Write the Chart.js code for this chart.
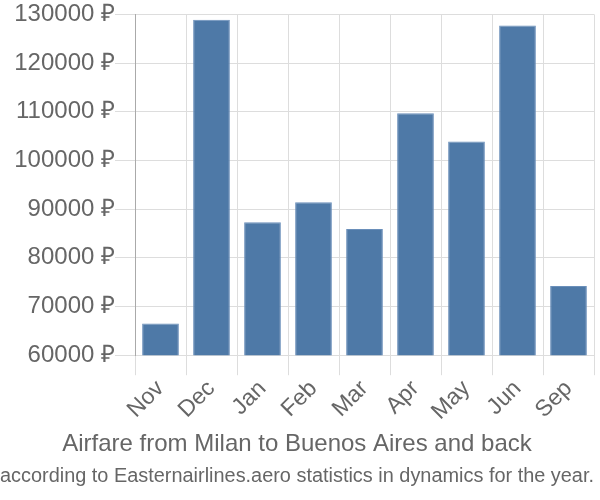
<!DOCTYPE html>
<html>
<head>
<meta charset="utf-8">
<script src="https://cdn.jsdelivr.net/npm/chart.js@4.4.0/dist/chart.umd.min.js"></script>
<style>
    html, body { margin: 0; padding: 0; background: #fff; }
    #wrap { width: 600px; height: 500px; }
</style>
</head>
<body>
<div id="wrap"><canvas id="fareChart" width="600" height="500"></canvas></div>
<script>
    // Chart data
    const months = ['Nov', 'Dec', 'Jan', 'Feb', 'Mar', 'Apr', 'May', 'Jun', 'Sep'];
    const prices = [66500, 128900, 87300, 91400, 85900, 109700, 103900, 127700, 74200];
    const yMin = 60000;
    const yMax = 130000;
    const yStep = 10000;

    const fontFamily = '"Liberation Sans", Arial, sans-serif';

    const ctx = document.getElementById('fareChart');
    new Chart(ctx, {
        type: 'bar',
        data: {
            labels: months,
            datasets: [{
                data: prices,
                backgroundColor: '#4e79a7',
                borderColor: '#6a8fba',
                borderWidth: 1
            }]
        },
        options: {
            responsive: false,
            animation: false,
            layout: { padding: { top: 14, right: 6, left: 0, bottom: 12 } },
            scales: {
                x: {
                    offset: true,
                    grid: { color: '#dddddd', lineWidth: 1, tickLength: 20, offset: true },
                    border: { display: false },
                    ticks: {
                        color: '#666',
                        font: { family: fontFamily, size: 23 },
                        maxRotation: 45,
                        minRotation: 45,
                        padding: 0
                    },
                    afterFit: scale => { scale.height = 75; }
                },
                y: {
                    min: yMin,
                    max: yMax,
                    grid: { color: '#dddddd', lineWidth: 1, tickLength: 20 },
                    border: { display: true, color: '#aaaaaa', width: 1 },
                    ticks: {
                        stepSize: yStep,
                        color: '#666',
                        padding: 0,
                        font: { family: fontFamily, size: 24 },
                        callback: v => v + ' ₽'
                    },
                    afterFit: scale => { scale.width = 135; }
                }
            },
            plugins: {
                legend: { display: false },
                tooltip: { enabled: false },
                title: {
                    display: true,
                    position: 'bottom',
                    weight: 2000,
                    text: 'Airfare from Milan to Buenos Aires and back',
                    color: '#666',
                    font: { family: fontFamily, size: 24, weight: 'normal' },
                    padding: { top: 0, bottom: 0 }
                },
                subtitle: {
                    display: true,
                    position: 'bottom',
                    weight: 2500,
                    text: 'according to Easternairlines.aero statistics in dynamics for the year.',
                    color: '#666',
                    font: { family: '"Liberation Sans Narrow", "Liberation Sans", sans-serif', size: 20 },
                    padding: { top: 5, bottom: 0 }
                }
            }
        }
    });
</script>
</body>
</html>
